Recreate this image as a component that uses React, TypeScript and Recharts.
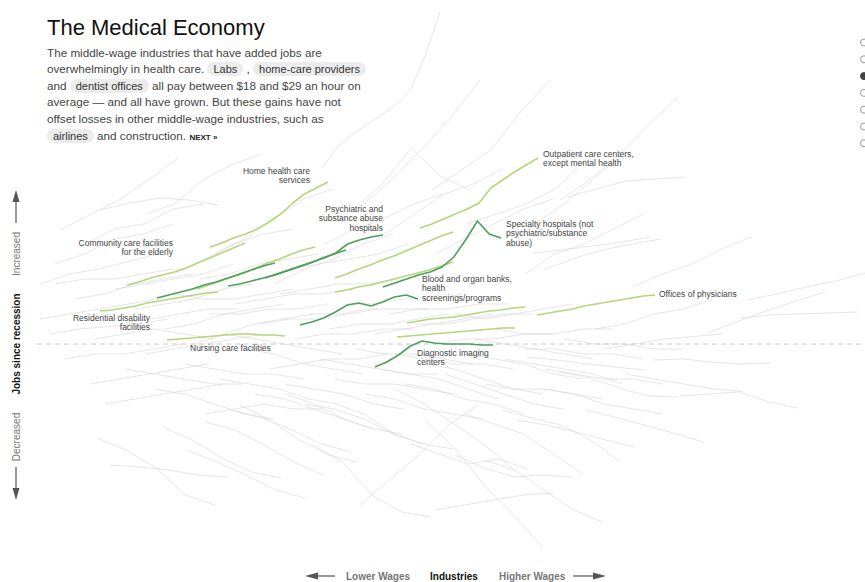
import { LineChart, Line, XAxis, YAxis, ReferenceLine } from "recharts"

// every industry line covers the same stretch of time after the recession
const SPAN = 11.8

// [wage position, job change readings over time]
const grayIndustries: [number, number[]][] = [
  // upper, fast growers
  [29.7, [35.2, 39.2, 41.8, 43.8, 45.8, 47.8, 50.8, 57.8, 66.4]],
  [33.7, [27.8, 32.8, 38.8, 45.2, 52.8]],
  [40.7, [30.8, 34.8, 38.8, 46.4, 52.8]],
  [53.5, [28.8, 32.8, 37.8, 43.8, 49.4]],
  [32.7, [26.8, 31.8, 39.2, 33.6, 30.8]],
  [3.5, [22.8, 25.8, 28.8, 32.8, 37.2]],
  [7.5, [26.8, 28.2, 29.2, 28.8, 27.8]],
  [1.5, [12, 14, 15, 16.5, 18]],
  [3, [16, 18, 21, 22, 24]],
  [6, [20, 23, 24, 27, 28]],
  [12, [26, 28, 33, 36, 38]],
  [15, [14, 17, 20, 22, 23]],
  [19, [18, 21, 25, 29, 31]],
  [25, [12, 15, 17, 20, 22]],
  [30, [20, 23, 25, 28, 30]],
  [36, [22, 26, 30, 32, 35]],
  [41, [18, 21, 24, 27, 29]],
  [44.2, [24, 26, 28, 31, 36.8]],
  [48, [20, 24, 28, 33, 38]],
  [50, [14, 18, 20, 23, 26]],
  [50.8, [18.2, 18.8, 19.6, 20.4, 21.4]],
  [51.8, [14.8, 17, 18.8, 20, 21]],
  [54.2, [29.4, 31, 32.6, 33, 33.4]],
  [60.8, [11.4, 14, 16, 19, 21.4]],
  [72.2, [8.8, 10, 11.4, 12.6, 14.2]],
  [68.2, [2.2, 4.4, 6.6, 8.6, 10.4]],
  [71.5, [5.2, 5.8, 6, 6.2, 6.4]],
  [62.8, [-3.2, -3, -3.6, -4, -3.8]],
  [50.2, [-2.6, -3.2, -4, -4.6, -5.2]],
  [57, [3, 4, 6, 7, 9]],
  [58, [-1, 0, 1, 1.5, 2]],
  // lower, shrinking
  [7.2, [-18.8, -21.2, -24.8, -30.2, -32.2]],
  [8.5, [-24.2, -24.6, -25.2, -26.2, -26.6]],
  [13.8, [-16.6, -19.2, -22.8, -25.6, -26.8]],
  [16.2, [-21.2, -23.6, -26.2, -29.2, -30.8]],
  [20.8, [-13.2, -14.8, -17.2, -20, -21.6]],
  [28.8, [-20.2, -23.6, -30.2, -33.6, -34.6]],
  [21.5, [-12.2, -15.2, -19.2, -22.2, -23.6]],
  [18, [-15.6, -17.2, -20.2, -23.6, -26.2]],
  [53.5, [-5.6, -6.8, -8.8, -10.4, -10.6]],
  [65.5, [-10.4, -10, -9.6, -11.6, -12.8]],
  [56, [-13.2, -14.6, -16.2, -17.8, -19.6]],
  [47.7, [-13.2, -14.8, -16.2, -19.2, -23.6]],
  [49.2, [-15.2, -16.2, -17.6, -19.2, -20.6]],
  [43, [-22.2, -24.8, -26.6, -26.2, -26.6]],
  [46, [-23.2, -25.2, -29.2, -33.2, -35.6]],
  [41, [-33.2, -32.2, -31.2, -30.2, -29.8]],
  [40, [-15.2, -20.8, -28.2, -34.2, -40.8]],
  [33.5, [-32.2, -27.2, -22.2, -16.2, -12.2]],
  [26, [-10, -12, -15, -17, -18]],
  [31, [-12, -14, -18, -20, -21]],
  [37, [-9, -12, -16, -20, -25]],
  [38.5, [-20, -22, -24, -23, -25]],
  [44, [-14, -16, -18, -22, -26]],
  [52, [-9, -10, -12, -13, -14]],
  [60, [-6, -7, -8, -9, -9.5]],
  // the crowded middle
  [1.5, [5, 6, 7, 8, 9]],
  [2.5, [2, 3, 3.5, 4, 5]],
  [4, [-3, -2, -2, -1, 0]],
  [5, [9, 10, 12, 13, 14]],
  [6.5, [-8, -7, -6, -5, -4]],
  [7, [1, 2, 3, 2, 1]],
  [8, [-12, -11, -10, -9, -8]],
  [9.5, [4, 5, 6, 7, 7]],
  [10, [-5, -6, -7, -8, -8]],
  [11, [7, 8, 9, 11, 12]],
  [12, [-2, -1, 0, 1, 2]],
  [13, [-9, -10, -12, -14, -15]],
  [14, [3, 4, 6, 7, 8]],
  [15, [10, 9, 9, 10, 11]],
  [16, [-4, -5, -6, -6, -7]],
  [17, [0, 2, 4, 5, 6]],
  [18, [-14, -13, -12, -13, -13]],
  [18.5, [6, 6, 7, 7, 8]],
  [19.5, [-7, -8, -9, -11, -12]],
  [20, [2, 1, 0, -1, -2]],
  [21, [8, 9, 10, 10, 11]],
  [22, [-1, -2, -4, -5, -6]],
  [23, [-10, -11, -13, -15, -17]],
  [23.5, [4, 5, 5, 6, 7]],
  [24.5, [-5, -4, -3, -3, -2]],
  [25.5, [10, 11, 12, 12, 13]],
  [26, [-8, -9, -10, -12, -13]],
  [27, [1, 2, 2, 3, 3]],
  [28, [-12, -13, -15, -18, -20]],
  [28.5, [6, 6, 7, 7, 7]],
  [29.5, [-3, -4, -5, -6, -6]],
  [30.5, [3, 4, 4, 5, 6]],
  [31, [-7, -8, -8, -9, -10]],
  [32, [8, 8, 9, 9, 10]],
  [33, [-1, -2, -2, -3, -4]],
  [34, [-10, -11, -13, -14, -15]],
  [35, [2, 3, 4, 5, 6]],
  [35.5, [-5, -6, -7, -9, -11]],
  [36.5, [6, 7, 7, 8, 8]],
  [37, [-2, -3, -4, -4, -5]],
  [38, [-8, -9, -11, -12, -14]],
  [39, [4, 4, 5, 6, 6]],
  [40, [-4, -5, -7, -9, -10]],
  [41, [0, 1, 1, 2, 2]],
  [42, [-6, -8, -10, -12, -13]],
  [43, [6, 5, 6, 7, 8]],
  [44, [-2, -3, -4, -6, -7]],
  [45, [1, 0, -1, -2, -3]],
  [46, [-8, -9, -9, -10, -11]],
  [47, [3, 2, 2, 3, 3]],
  [48, [-3, -4, -5, -6, -8]],
  [50, [-1, -1, -2, -2, -3]],
  [52, [-5, -6, -7, -7, -8]],
  [54, [1, 0, 0, -1, -1]],
  [3, [12, 13, 13, 14, 15]],
  [9, [11, 12, 13, 14, 16]],
  [17.5, [13, 14, 16, 17, 18]],
  [26.5, [15, 16, 17, 18, 20]],
]

// health care industries, lighter highlight
const lightHealth: [number, number[]][] = [
  [18.5, [19.4, 20.2, 21.2, 22, 23, 24.4, 26, 28.2, 30, 31.2, 32.4]], // home health care
  [10.2, [11.8, 12.4, 13.2, 13.8, 14.4, 15.2, 16.2, 17.2, 18.2, 19.2, 20.2]], // community care, elderly
  [7.5, [6.6, 6.8, 7.2, 7.6, 8.2, 8.6, 9, 9.4, 9.8, 10.2, 10.4]], // residential disability
  [14.2, [0.8, 1, 1.2, 1.4, 1.6, 1.8, 2, 2, 1.8, 1.8, 1.6]], // nursing care
  [17.2, [11, 11.8, 12.6, 13.4, 14.2, 15.2, 16.2, 17, 18, 18.8, 19.4]],
  [39.5, [23.2, 24, 25, 26, 27, 28.2, 31.2, 32.8, 34.4, 35.8, 37.2]], // outpatient
  [31, [13.2, 14, 15, 15.8, 16.8, 17.6, 18.6, 19.6, 20.6, 21.6, 22.4]],
  [31, [10.4, 10.8, 11.4, 11.8, 12.4, 13, 13.6, 14.2, 14.8, 15.6, 16.4]],
  [38.2, [4.2, 4.6, 5, 5.2, 5.4, 5.8, 6.2, 6.6, 6.8, 7.2, 7.4]],
  [37.2, [1.4, 1.6, 1.8, 2, 2.2, 2.4, 2.6, 2.8, 3, 3.2, 3.2]],
  [51.2, [5.8, 6.2, 6.6, 7, 7.6, 8, 8.4, 8.8, 9.2, 9.6, 9.8]], // offices of physicians
]

// health care industries, darker highlight
const darkHealth: [number, number[]][] = [
  [13.2, [9.2, 9.8, 10.4, 11, 11.8, 12.4, 13.2, 14, 14.8, 15.6, 16.2]],
  [20.3, [11.6, 12, 12.6, 13.2, 13.8, 14.6, 15.4, 16.2, 17.2, 18, 18.8]],
  [24, [13.2, 14, 14.8, 15.6, 16.4, 17.2, 18.2, 20, 20.8, 21.4, 21.8]], // psychiatric hospitals
  [35.8, [11.4, 12.2, 13, 13.8, 14.4, 15.4, 17.4, 20.8, 24.6, 22, 21.2]], // specialty hospitals
  [27.5, [3.8, 4.4, 5.2, 6.4, 7.8, 8.2, 7.6, 8.4, 9.4, 9.8, 9]], // blood and organ banks
  [35, [-4.6, -3.6, -2.2, -0.4, 0.6, 0.2, 0, 0, 0, -0.2, -0.2]], // diagnostic imaging
]

const toPoints = (wage: number, jobs: number[]) =>
  jobs.map((y, i) => ({ x: wage + (SPAN * i) / (jobs.length - 1), y }))

const font = '"Liberation Sans", Arial, sans-serif'

const pill = {
  background: "#ececec",
  borderRadius: 9,
  padding: "1px 6px",
  fontSize: 11,
  color: "#333",
}

const lbl = (extra: any) => ({
  position: "absolute" as const,
  fontSize: 8.5,
  lineHeight: "9.3px",
  color: "#444",
  whiteSpace: "nowrap" as const,
  ...extra,
})

const dotsY = [42.5, 59.3, 76.1, 92.9, 109.7, 126.5, 143.3]

export default function App() {
  return (
    <div style={{ position: "absolute", left: 0, top: 0, width: 865, height: 582, overflow: "hidden", background: "#fff", fontFamily: font }}>
      <div style={{ position: "absolute", left: 0, top: 0 }}>
        <LineChart width={865} height={582} margin={{ top: 4, right: 0, bottom: 8, left: 25 }}>
          <XAxis type="number" dataKey="x" domain={[0, 84]} allowDataOverflow hide />
          <YAxis type="number" domain={[-46, 68]} allowDataOverflow hide />
          <ReferenceLine segment={[{ x: 1.2, y: 0 }, { x: 84, y: 0 }]} stroke="#c8c8c8" strokeDasharray="5 4" ifOverflow="visible" />
          {grayIndustries.map(([w, j], i) => (
            <Line key={"g" + i} data={toPoints(w, j)} dataKey="y" type="linear" stroke="#d2d2d2" strokeOpacity={0.55} strokeWidth={1} dot={false} isAnimationActive={false} />
          ))}
          {lightHealth.map(([w, j], i) => (
            <Line key={"l" + i} data={toPoints(w, j)} dataKey="y" type="linear" stroke="#b4d67c" strokeWidth={1.6} dot={false} isAnimationActive={false} />
          ))}
          {darkHealth.map(([w, j], i) => (
            <Line key={"d" + i} data={toPoints(w, j)} dataKey="y" type="linear" stroke="#4e9f5c" strokeWidth={1.6} dot={false} isAnimationActive={false} />
          ))}
        </LineChart>
      </div>

      <div style={{ position: "absolute", left: 47, top: 17, fontSize: 22, lineHeight: "22px", color: "#111" }}>The Medical Economy</div>
      <div style={{ position: "absolute", left: 47, top: 44.7, fontSize: 11.7, lineHeight: "16.6px", color: "#444", whiteSpace: "nowrap" }}>
        The middle-wage industries that have added jobs are<br />
        overwhelmingly in health care. <span style={pill}>Labs</span> , <span style={pill}>home-care providers</span><br />
        and <span style={pill}>dentist offices</span> all pay between $18 and $29 an hour on<br />
        average — and all have grown. But these gains have not<br />
        offset losses in other middle-wage industries, such as<br />
        <span style={pill}>airlines</span> and construction.{" "}
        <b style={{ fontSize: 8, color: "#222" }}>NEXT »</b>
      </div>

      <div style={lbl({ right: 555, top: 167, textAlign: "right" })}>Home health care<br />services</div>
      <div style={lbl({ right: 482, top: 205, textAlign: "right" })}>Psychiatric and<br />substance abuse<br />hospitals</div>
      <div style={lbl({ right: 692, top: 239, textAlign: "right" })}>Community care facilities<br />for the elderly</div>
      <div style={lbl({ right: 715, top: 314, textAlign: "right" })}>Residential disability<br />facilities</div>
      <div style={lbl({ left: 190, top: 344 })}>Nursing care facilities</div>
      <div style={lbl({ left: 543, top: 150 })}>Outpatient care centers,<br />except mental health</div>
      <div style={lbl({ left: 506, top: 220 })}>Specialty hospitals (not<br />psychiatric/substance<br />abuse)</div>
      <div style={lbl({ left: 422, top: 275 })}>Blood and organ banks,<br />health<br />screenings/programs</div>
      <div style={lbl({ left: 417, top: 349 })}>Diagnostic imaging<br />centers</div>
      <div style={lbl({ left: 659, top: 290 })}>Offices of physicians</div>

      <svg width={865} height={582} style={{ position: "absolute", left: 0, top: 0, pointerEvents: "none" }}>
        <g fontFamily={font} fontSize={10} textAnchor="middle" dominantBaseline="central">
          <line x1={16} y1={223} x2={16} y2={200} stroke="#555" strokeWidth={1.2} />
          <polygon points="12.5,202 19.5,202 16,190" fill="#555" />
          <text transform="translate(16,254) rotate(-90)" fill="#777">Increased</text>
          <text transform="translate(16,344) rotate(-90)" fill="#111" fontWeight="bold">Jobs since recession</text>
          <text transform="translate(16,437) rotate(-90)" fill="#777">Decreased</text>
          <line x1={16} y1={467} x2={16} y2={490} stroke="#555" strokeWidth={1.2} />
          <polygon points="12.5,488 19.5,488 16,500" fill="#555" />
        </g>
        <g fontFamily={font} fontSize={10} fontWeight="bold" dominantBaseline="central">
          <line x1={316} y1={576} x2={335} y2={576} stroke="#555" strokeWidth={1.2} />
          <polygon points="318,572.5 318,579.5 305,576" fill="#555" />
          <text x={346} y={576} fill="#777">Lower Wages</text>
          <text x={430} y={576} fill="#111">Industries</text>
          <text x={499} y={576} fill="#777">Higher Wages</text>
          <line x1={573} y1={576} x2={594} y2={576} stroke="#555" strokeWidth={1.2} />
          <polygon points="593,572.5 593,579.5 606,576" fill="#555" />
        </g>
        {dotsY.map((cy, i) => (
          <circle key={i} cx={864} cy={cy} r={3.5} fill={i === 2 ? "#444" : "#fff"} stroke={i === 2 ? "#444" : "#999"} strokeWidth={1} />
        ))}
      </svg>
    </div>
  )
}
